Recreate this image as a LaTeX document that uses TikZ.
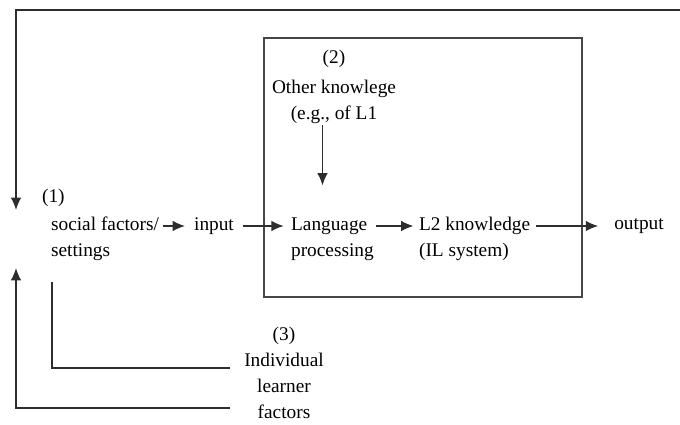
\documentclass[tikz,border=0pt]{standalone}
\usepackage{fontspec}
\setmainfont{Liberation Serif}
\usetikzlibrary{arrows.meta, positioning, calc}
\definecolor{lineg}{RGB}{45,45,45}
\definecolor{boxg}{RGB}{70,70,70}

\begin{document}
\begin{tikzpicture}[x=0.02cm, y=-0.02cm, >={Latex[length=7pt,width=6pt]},
    txt/.style={inner sep=1pt, font=\fontsize{11}{14.8}\selectfont},
    arr/.style={->, line width=0.85pt, lineg}]
  \useasboundingbox (0,0) rectangle (680,425);

  % the processing box
  \draw[line width=1.1pt, boxg] (264,38) rectangle (582,297);

  % main chain
  \node[txt, anchor=west] (n1) at (40,198) {(1)};
  \node[txt, anchor=west, align=left] (social) at (49,239) {social factors/\\settings};
  \node[txt] (input) at (214,226) {input};
  \node[txt, anchor=west, align=left] (lang) at (289,239) {Language\\processing};
  \node[txt, anchor=west, align=left] (l2) at (417,239) {L2 knowledge\\(IL system)};
  \node[txt] (output) at (639,226) {output};
  \node[txt, anchor=north, align=center] (other) at (334,48) {(2)\\[2pt]Other knowlege\\(e.g., of L1};
  \node[txt, align=center] (ilf) at (284,373) {(3)\\Individual\\learner\\factors};

  \draw[arr] ([xshift=1pt]social.east |- input.west) -- ([xshift=-4pt]input.west);
  \draw[arr] ([xshift=4pt]input.east) -- ([xshift=-3pt]lang.west |- input.west);
  \draw[arr] (lang.east |- input.west) -- ([xshift=-2pt]l2.west |- input.west);
  \draw[arr] ([xshift=2pt]l2.east |- input.west) -- ([xshift=-8pt]output.west);
  \draw[arr] ([xshift=-0.23cm]other.south) -- ([xshift=-0.23cm]other.south |- lang.north)
    [shorten >=0.6cm];

  % feedback lines
  \coordinate (fbtop) at (680,10);
  \coordinate (fbdown) at (16,210);
  \draw[arr] (fbtop) -| (fbdown);
  \coordinate (stub) at (52,282);
  \coordinate (indl) at (230,368);
  \draw[line width=0.85pt, lineg] (indl) -| (stub);
  \coordinate (fbbot) at (230,408);
  \coordinate (fbup) at (16,268);
  \draw[arr] (fbbot) -| (fbup);
\end{tikzpicture}
\end{document}
